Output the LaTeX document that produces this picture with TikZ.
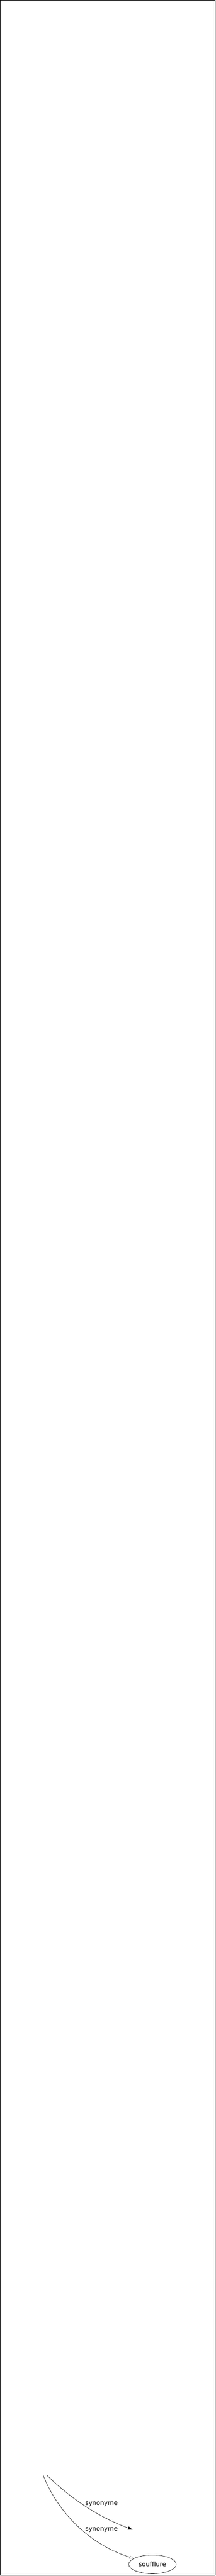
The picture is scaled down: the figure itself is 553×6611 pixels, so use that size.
\documentclass[tikz,border=0pt]{standalone}
\usepackage{fontspec}
\setmainfont[Ligatures=NoCommon]{DejaVu Sans}
\usetikzlibrary{arrows.meta,shapes.geometric}
\begin{document}
\begin{tikzpicture}[x=1pt,y=-1pt,
  lbl/.style={font=\fontsize{16}{19}\selectfont, inner sep=0pt},
  edgeline/.style={line width=0.8pt},
  term/.style={draw, ellipse, line width=0.8pt, minimum width=122pt, minimum height=48pt, inner sep=0pt, font=\fontsize{16}{19}\selectfont}]
\useasboundingbox (0,0) rectangle (553,6611);
\fill[white] (0,0) rectangle (553,6611);
\draw[line width=1.5pt] (1,1) rectangle (552,6609);
\coordinate (srcA) at (121,6353);
\coordinate (srcB) at (111,6353);
\coordinate (endA) at (340,6492);
\node[term] (s) at (391,6581) {soufflure};
\draw[edgeline, -{Triangle[length=12pt,width=8pt]}] (srcA) .. controls (190,6420) and (260,6462) .. (endA);
\draw[edgeline, -{Triangle[open,length=11pt,width=8pt,color=gray!70]}] (srcB) .. controls (150,6450) and (230,6530) .. (s);
\node[lbl] (l1) at (260.5,6426) {synonyme};
\node[lbl] (l2) at (260.5,6493) {synonyme};
\end{tikzpicture}
\end{document}
